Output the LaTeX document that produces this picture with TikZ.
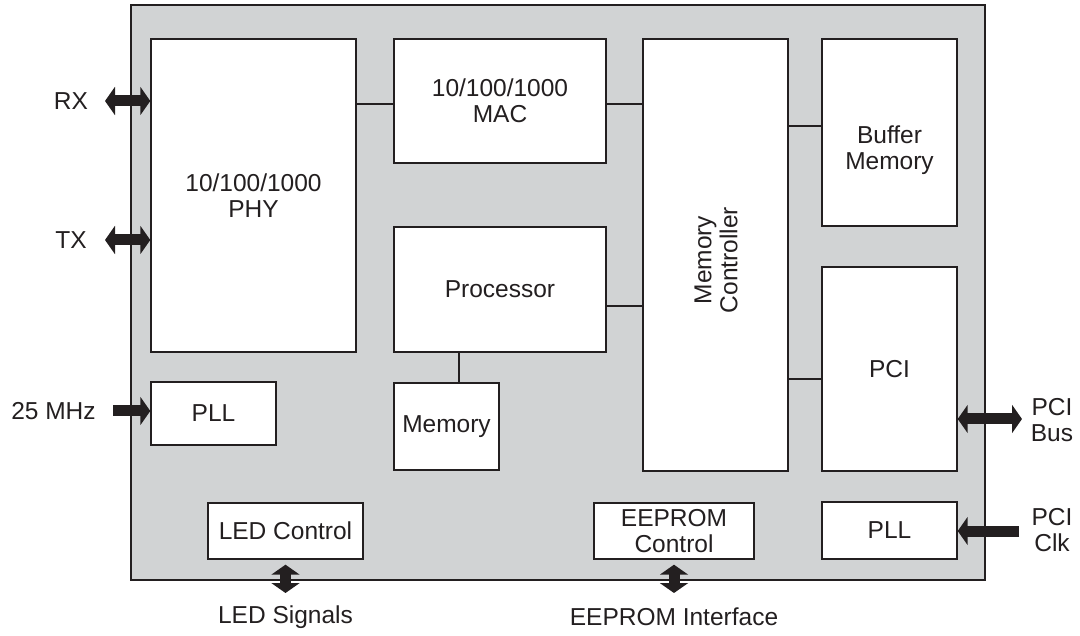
\documentclass[tikz,border=0pt]{standalone}
\usepackage{fontspec}
\setmainfont{Liberation Sans}
\usetikzlibrary{arrows.meta}
\definecolor{chip}{RGB}{209,211,212}
\definecolor{ink}{RGB}{35,31,32}
\tikzset{
  txt/.style={font=\fontsize{24.5}{26}\selectfont, text=ink, align=center},
  blk/.style={txt, draw=ink, line width=1.4pt, fill=white, inner sep=0pt},
  lbl/.style={txt, inner sep=0pt},
  link/.style={draw=ink, line width=1.4pt},
  tipA/.tip={Triangle[width=28pt,length=10pt]},
  bus/.style={draw=ink, line width=11pt, -tipA},
  bibus/.style={draw=ink, line width=11pt, tipA-tipA},
}
\begin{document}
\begin{tikzpicture}[x=1pt,y=-1pt]
\useasboundingbox (0,0) rectangle (1080,636);
\path[draw=ink, fill=chip, line width=1.4pt] (131,5) rectangle (985,580);

% blocks
\node[blk, minimum width=205pt, minimum height=313pt] (phy) at (253.5,195.5) {10/100/1000\\PHY};
\node[blk, minimum width=212pt, minimum height=124pt] (mac) at (500,101) {10/100/1000\\MAC};
\node[blk, minimum width=212pt, minimum height=125pt] (proc) at (500,289.5) {Processor};
\node[blk, minimum width=145pt, minimum height=432pt] (memc) at (715.5,255) {};
\node[lbl, rotate=90] (memct) at (716,260) {Memory\\Controller};
\node[blk, minimum width=135pt, minimum height=187pt] (buf) at (889.5,132.5) {};
\node[lbl] (buft) at (889.5,150) {Buffer\\Memory};
\node[blk, minimum width=135pt, minimum height=204pt] (pci) at (889.5,369) {PCI};
\node[blk, minimum width=125pt, minimum height=63pt] (pllL) at (213.5,413.5) {PLL};
\node[blk, minimum width=105pt, minimum height=87pt] (mem) at (446.5,426.5) {Memory};
\node[blk, minimum width=155pt, minimum height=56pt] (led) at (285.5,531) {LED Control};
\node[blk, minimum width=160pt, minimum height=56pt] (eep) at (674,531) {EEPROM\\Control};
\node[blk, minimum width=135pt, minimum height=57pt] (pllR) at (889.5,530.5) {PLL};

% internal links
\coordinate (y1) at (0,104);
\coordinate (y2) at (0,126);
\coordinate (y3) at (0,306);
\coordinate (y4) at (0,379);
\draw[link] (phy.east |- y1) -- (mac.west |- y1);
\draw[link] (mac.east |- y1) -- (memc.west |- y1);
\draw[link] (memc.east |- y2) -- (buf.west |- y2);
\draw[link] (proc.east |- y3) -- (memc.west |- y3);
\draw[link] (memc.east |- y4) -- (pci.west |- y4);
\coordinate (x1) at (459,0);
\draw[link] (proc.south -| x1) -- (mem.north -| x1);

% external labels
\node[lbl] (rx) at (71,101) {RX};
\node[lbl] (tx) at (71,240) {TX};
\node[lbl] (mhz) at (53.5,411) {25 MHz};
\node[lbl] (pcibus) at (1052,420) {PCI\\Bus};
\node[lbl] (pciclk) at (1052,530) {PCI\\Clk};
\node[lbl] (ledsig) at (285.5,617) {LED Signals};
\node[lbl] (eepif) at (674,617) {EEPROM Interface};

% external arrows
\coordinate (rxe) at (105,101);
\coordinate (txe) at (105,240);
\coordinate (mhze) at (113,411);
\coordinate (pcibe) at (1022,419);
\coordinate (pcice) at (1019,531);
\coordinate (leda) at ([yshift=-5pt]led.south);
\coordinate (ledb) at (285.5,593);
\coordinate (eepa) at ([yshift=-5pt]eep.south);
\coordinate (eepb) at (674,593);
\draw[bibus] (rxe) -- (phy.west |- rxe);
\draw[bibus] (txe) -- (phy.west |- txe);
\draw[bus] (mhze) -- (pllL.west |- mhze);
\draw[bibus] (pci.east |- pcibe) -- (pcibe);
\draw[bus] (pcice) -- (pllR.east |- pcice);
\draw[bibus] (leda) -- (ledb);
\draw[bibus] (eepa) -- (eepb);
\end{tikzpicture}
\end{document}
